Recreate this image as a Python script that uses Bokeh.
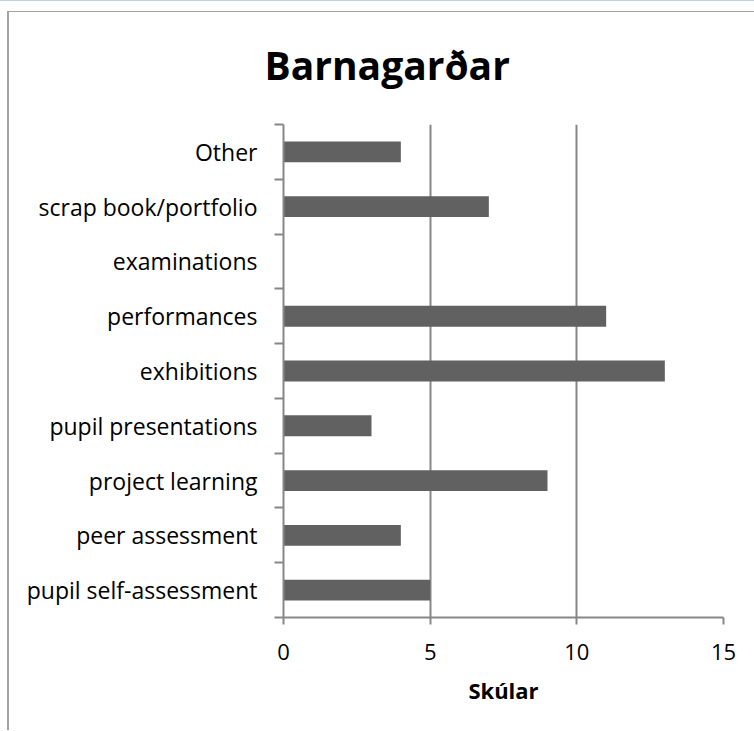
from bokeh.plotting import figure
from bokeh.models import Range1d, FixedTicker, ColumnDataSource
from bokeh.embed import file_html
from bokeh.resources import INLINE

# ---- data (bottom to top) ----
categories = ["pupil self-assessment", "peer assessment", "project learning",
              "pupil presentations", "exhibitions", "performances",
              "examinations", "scrap book/portfolio", "Other"]
values = [5, 4, 9, 3, 13, 11, 0, 7, 4]
x_ticks = [0, 5, 10, 15]
title_text = "Barnagarðar"
x_label = "Skúlar"

FONT = "Open Sans"
GRAY = "#878787"
BAR = "#616161"

n = len(categories)
centers = [i + 0.5 for i in range(n)]
bounds = list(range(n + 1))

src = ColumnDataSource(dict(y=centers, v=values, cat=categories))

p = figure(width=754, height=730, output_backend="svg", toolbar_location=None,
           x_range=Range1d(0, 15), y_range=Range1d(0, n),
           min_border_left=283, min_border_right=31,
           min_border_top=122, min_border_bottom=114)
# light-blue line on top, grey chart-box border (left and top) drawn by CSS
p.styles = {
    "border-top": "1px solid #bfd1e8",
    "background-color": "white",
    "box-shadow": "inset 7px 10px 0 0 #ffffff, inset 9px 11px 0 0 #a3a3a3",
}
p.background_fill_color = "white"
p.border_fill_color = None
p.outline_line_color = None

p.hbar(y="y", right="v", left=0, height=0.38, source=src,
       fill_color=BAR, line_color=None)

# title
p.title.text = title_text
p.title.text_font = FONT
p.title.text_font_style = "bold"
p.title.text_font_size = "39px"
p.title.text_color = "black"
p.title.align = "left"
p.title.offset = -19
p.title.standoff = 68

# x axis
xa = p.xaxis[0]
xa.ticker = FixedTicker(ticks=x_ticks, minor_ticks=[])
xa.axis_line_color = GRAY
xa.axis_line_width = 2
xa.major_tick_line_color = GRAY
xa.major_tick_line_width = 2
xa.major_tick_out = 7
xa.major_tick_in = 0
xa.minor_tick_line_color = None
xa.major_label_text_font = FONT
xa.major_label_text_font_size = "22px"
xa.major_label_text_color = "black"
xa.major_label_standoff = 19
xa.axis_label = x_label
xa.axis_label_text_font = FONT
xa.axis_label_text_font_style = "bold"
xa.axis_label_text_font_size = "22px"
xa.axis_label_text_color = "black"
xa.axis_label_standoff = 12

# y axis: labels at band centers, tick marks at band boundaries
ya = p.yaxis[0]
ya.ticker = FixedTicker(ticks=centers, minor_ticks=bounds)
ya.major_label_overrides = {c: cat for c, cat in zip(centers, categories)}
ya.axis_line_color = GRAY
ya.axis_line_width = 2
ya.major_tick_line_color = None
ya.major_tick_out = 0
ya.major_tick_in = 0
ya.minor_tick_line_color = GRAY
ya.minor_tick_line_width = 2
ya.minor_tick_out = 9
ya.minor_tick_in = 0
ya.major_label_text_font = FONT
ya.major_label_text_font_size = "23px"
ya.major_label_text_color = "black"
ya.major_label_standoff = 17

p.xgrid.ticker = FixedTicker(ticks=x_ticks[1:])
p.xgrid.grid_line_color = GRAY
p.xgrid.grid_line_width = 2
p.ygrid.grid_line_color = None

open("out.html", "w").write(file_html(p, INLINE))
